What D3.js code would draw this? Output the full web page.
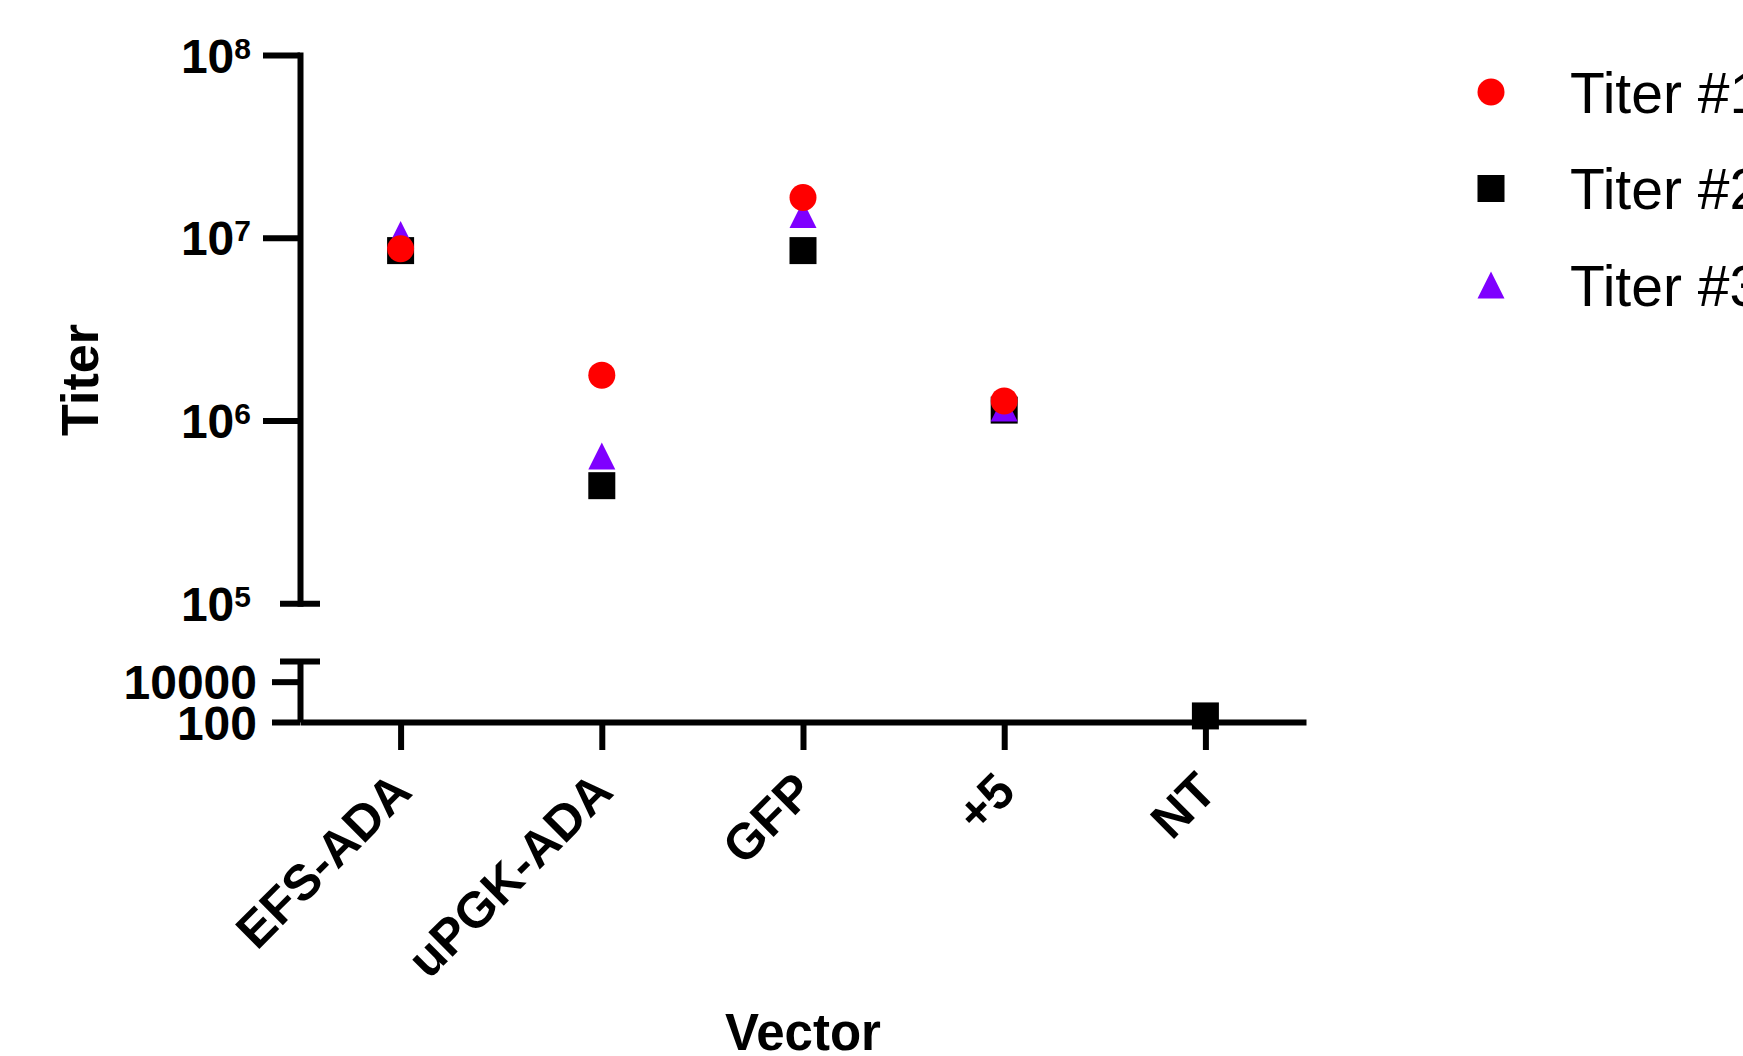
<!DOCTYPE html>
<html>
<head>
<meta charset="utf-8">
<script src="https://cdn.jsdelivr.net/npm/d3@7"></script>
<style>
  body { margin: 0; background: #fff; }
  svg { display: block; }
  text { font-family: "Liberation Sans", Arial, sans-serif; fill: #000; }
</style>
</head>
<body>
<script>
// data
const categories = ['EFS-ADA', 'uPGK-ADA', 'GFP', '+5', 'NT'];
const titer1 = [8.7e6, 1.77e6, 1.66e7, 1.28e6, null];
const titer2 = [8.5e6, 4.4e5, 8.5e6, 1.14e6, 200];
const titer3 = [1.04e7, 6.4e5, 1.34e7, 1.17e6, null];
const seriesNames = ['Titer #1', 'Titer #2', 'Titer #3'];
const topTicks = [1e5, 1e6, 1e7, 1e8];
const bottomTicks = [100, 10000];

const width = 1743, height = 1056;
const axisX = 300, axisY = 722, axisRight = 1306;

const svg = d3.select('body').append('svg')
  .attr('width', width)
  .attr('height', height);

// broken log axis: two pieces
const yTop = d3.scaleLog().domain([1e5, 1e8]).range([603.3, 54.9]);
const yBot = d3.scaleLog().domain([100, 1e5]).range([axisY, 661.5]);
const y = v => v >= 1e5 ? yTop(v) : yBot(v);

const x = d3.scalePoint().domain(categories).range([axisX, axisRight]).padding(0.5);

// upper y axis
const gTop = svg.append('g')
  .attr('transform', `translate(${axisX},0)`)
  .call(d3.axisLeft(yTop).tickValues(topTicks).tickSize(37).tickSizeOuter(0));
gTop.select('.domain').attr('stroke-width', 6).attr('stroke-linecap', 'square');
gTop.selectAll('.tick line').attr('stroke-width', 6)
  .filter(d => d === 1e5).attr('x1', -20).attr('x2', 20);
gTop.selectAll('.tick text').each(function(d) {
  const t = d3.select(this).text(null)
    .attr('font-size', 48).attr('font-weight', 'bold').attr('dy', '0.36em')
    .attr('x', -49);
  t.append('tspan').text('10');
  t.append('tspan').attr('font-size', 30).attr('dy', -14).text(Math.round(Math.log10(d)));
});

// lower y axis
const gBot = svg.append('g')
  .attr('transform', `translate(${axisX},0)`)
  .call(d3.axisLeft(yBot).tickValues(bottomTicks).tickSize(28).tickSizeOuter(0).tickPadding(15)
    .tickFormat(d3.format('d')));
gBot.select('.domain').attr('stroke-width', 6);
gBot.selectAll('.tick line').attr('stroke-width', 6);
gBot.selectAll('.tick text').attr('font-size', 48).attr('font-weight', 'bold').attr('dy', '0.36em');
// break cap on lower piece
gBot.append('line')
  .attr('x1', -20).attr('x2', 20)
  .attr('y1', yBot(1e5)).attr('y2', yBot(1e5))
  .attr('stroke', '#000').attr('stroke-width', 6);

// x axis
const gX = svg.append('g')
  .attr('transform', `translate(0,${axisY})`)
  .call(d3.axisBottom(x).tickSize(28).tickSizeOuter(0));
gX.select('.domain').attr('stroke-width', 6);
gX.selectAll('.tick line').attr('stroke-width', 6);
gX.selectAll('.tick text')
  .attr('font-size', 50).attr('font-weight', 'bold')
  .attr('text-anchor', 'end')
  .attr('x', 0).attr('y', 0).attr('dy', 0)
  .attr('transform', 'translate(13,72) rotate(-45)');

// titles
svg.append('text')
  .attr('transform', 'translate(98,380) rotate(-90)')
  .attr('text-anchor', 'middle')
  .attr('font-size', 52).attr('font-weight', 'bold')
  .text('Titer');

svg.append('text')
  .attr('x', x('GFP')).attr('y', 1050)
  .attr('text-anchor', 'middle')
  .attr('font-size', 51).attr('font-weight', 'bold')
  .text('Vector');

// markers
const half = 13.5;
const trianglePath = `M0,${-half}L${half},${half}L${-half},${half}Z`;
const toPoints = arr => arr.map((v, i) => ({cat: categories[i], v: v})).filter(d => d.v != null);

svg.append('g').selectAll('rect')
  .data(toPoints(titer2))
  .join('rect')
  .attr('x', d => x(d.cat) - half)
  .attr('y', d => y(d.v) - half)
  .attr('width', half * 2).attr('height', half * 2)
  .attr('fill', '#000');

svg.append('g').selectAll('path')
  .data(toPoints(titer3))
  .join('path')
  .attr('transform', d => `translate(${x(d.cat)},${y(d.v)})`)
  .attr('d', trianglePath)
  .attr('fill', '#7f00ff');

svg.append('g').selectAll('circle')
  .data(toPoints(titer1))
  .join('circle')
  .attr('cx', d => x(d.cat))
  .attr('cy', d => y(d.v))
  .attr('r', half)
  .attr('fill', '#ff0000');

// legend
const legendY = d3.scalePoint().domain(seriesNames).range([92, 285]);
const legend = svg.append('g');
const lx = 1491;
legend.append('circle').attr('cx', lx).attr('cy', legendY('Titer #1')).attr('r', half).attr('fill', '#ff0000');
legend.append('rect').attr('x', lx - half).attr('y', legendY('Titer #2') - half)
  .attr('width', half * 2).attr('height', half * 2).attr('fill', '#000');
legend.append('path').attr('transform', `translate(${lx},${legendY('Titer #3')})`)
  .attr('d', trianglePath).attr('fill', '#7f00ff');
legend.selectAll('text')
  .data(seriesNames)
  .join('text')
  .attr('x', 1570)
  .attr('y', d => legendY(d) + 20.5)
  .attr('font-size', 57)
  .text(d => d);
</script>
</body>
</html>
